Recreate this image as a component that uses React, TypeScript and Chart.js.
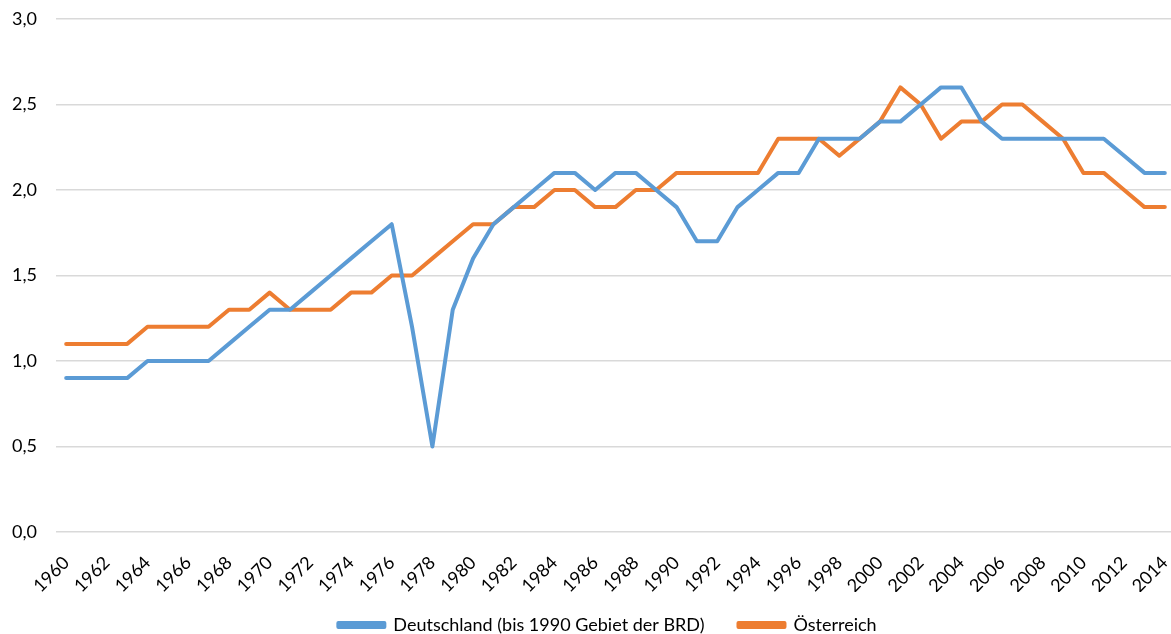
import React, { useEffect, useRef } from "react";
import { Chart, registerables } from "chart.js";

Chart.register(...registerables);

const years: string[] = [];
for (let y = 1960; y <= 2014; y++) years.push(String(y));

const deutschland = [
  0.9, 0.9, 0.9, 0.9, 1.0, 1.0, 1.0, 1.0, 1.1, 1.2,
  1.3, 1.3, 1.4, 1.5, 1.6, 1.7, 1.8, 1.2, 0.5, 1.3,
  1.6, 1.8, 1.9, 2.0, 2.1, 2.1, 2.0, 2.1, 2.1, 2.0,
  1.9, 1.7, 1.7, 1.9, 2.0, 2.1, 2.1, 2.3, 2.3, 2.3,
  2.4, 2.4, 2.5, 2.6, 2.6, 2.4, 2.3, 2.3, 2.3, 2.3,
  2.3, 2.3, 2.2, 2.1, 2.1,
];

const oesterreich = [
  1.1, 1.1, 1.1, 1.1, 1.2, 1.2, 1.2, 1.2, 1.3, 1.3,
  1.4, 1.3, 1.3, 1.3, 1.4, 1.4, 1.5, 1.5, 1.6, 1.7,
  1.8, 1.8, 1.9, 1.9, 2.0, 2.0, 1.9, 1.9, 2.0, 2.0,
  2.1, 2.1, 2.1, 2.1, 2.1, 2.3, 2.3, 2.3, 2.2, 2.3,
  2.4, 2.6, 2.5, 2.3, 2.4, 2.4, 2.5, 2.5, 2.4, 2.3,
  2.1, 2.1, 2.0, 1.9, 1.9,
];

const seriesNames = ["Deutschland (bis 1990 Gebiet der BRD)", "Österreich"];
const FONT = "Lato, 'Open Sans', sans-serif";

const CANVAS_W = 1175;
const CANVAS_H = 654;

const legendShift = {
  id: "legendShift",
  afterLayout(chart: any) {
    const l = chart.legend;
    if (l) {
      l.left -= 8;
      l.right -= 8;
      l.top -= 10;
      l.bottom -= 10;
    }
  },
};

export default function App() {
  const ref = useRef<HTMLCanvasElement | null>(null);
  useEffect(() => {
    if (!ref.current) return;
    const chart = new Chart(ref.current, {
      type: "line",
      plugins: [legendShift],
      data: {
        labels: years,
        datasets: [
          {
            label: seriesNames[0],
            data: deutschland,
            borderColor: "#5b9bd5",
            backgroundColor: "#5b9bd5",
            borderWidth: 4,
            pointRadius: 0,
            tension: 0,
            borderCapStyle: "round",
            borderJoinStyle: "round",
          },
          {
            label: seriesNames[1],
            data: oesterreich,
            borderColor: "#ed7d31",
            backgroundColor: "#ed7d31",
            borderWidth: 4,
            pointRadius: 0,
            tension: 0,
            borderCapStyle: "round",
            borderJoinStyle: "round",
          },
        ],
      },
      options: {
        animation: false,
        responsive: false,
        maintainAspectRatio: false,
        layout: { padding: { top: 19, right: 0, left: 0, bottom: 0 } },
        plugins: {
          tooltip: { enabled: false },
          legend: {
            position: "bottom",
            fullSize: false,
            labels: {
              boxWidth: 46,
              boxHeight: 4,
              padding: 34,
              color: "#000",
              font: { family: FONT, size: 18 },
            },
          },
        },
        scales: {
          x: {
            offset: true,
            grid: { display: false, drawTicks: false },
            border: { display: false },
            ticks: {
              autoSkip: false,
              minRotation: 45,
              maxRotation: 45,
              padding: 20,
              color: "#000",
              font: { family: FONT, size: 18 },
              callback: (_v: any, i: number) => (i % 2 === 0 ? years[i] : ""),
            },
            afterFit: (s: any) => {
              s.height = 60;
              s.paddingLeft = 0;
              s.paddingRight = 0;
            },
          },
          y: {
            min: 0,
            max: 3,
            grid: { color: "#d9d9d9", lineWidth: 1.5, drawTicks: false },
            border: { display: false },
            ticks: {
              stepSize: 0.5,
              padding: 19,
              color: "#000",
              font: { family: FONT, size: 18 },
              callback: (v: any) => Number(v).toFixed(1).replace(".", ","),
            },
            afterFit: (s: any) => {
              s.width = 56;
              s.paddingTop = 0;
              s.paddingBottom = 0;
            },
          },
        },
      },
    });
    return () => chart.destroy();
  }, []);
  return (
    <div
      style={{
        position: "fixed",
        left: 0,
        top: 0,
        width: 1171,
        height: 634,
        overflow: "hidden",
        background: "#fff",
      }}
    >
      <canvas ref={ref} width={CANVAS_W} height={CANVAS_H} style={{ display: "block" }} />
    </div>
  );
}
